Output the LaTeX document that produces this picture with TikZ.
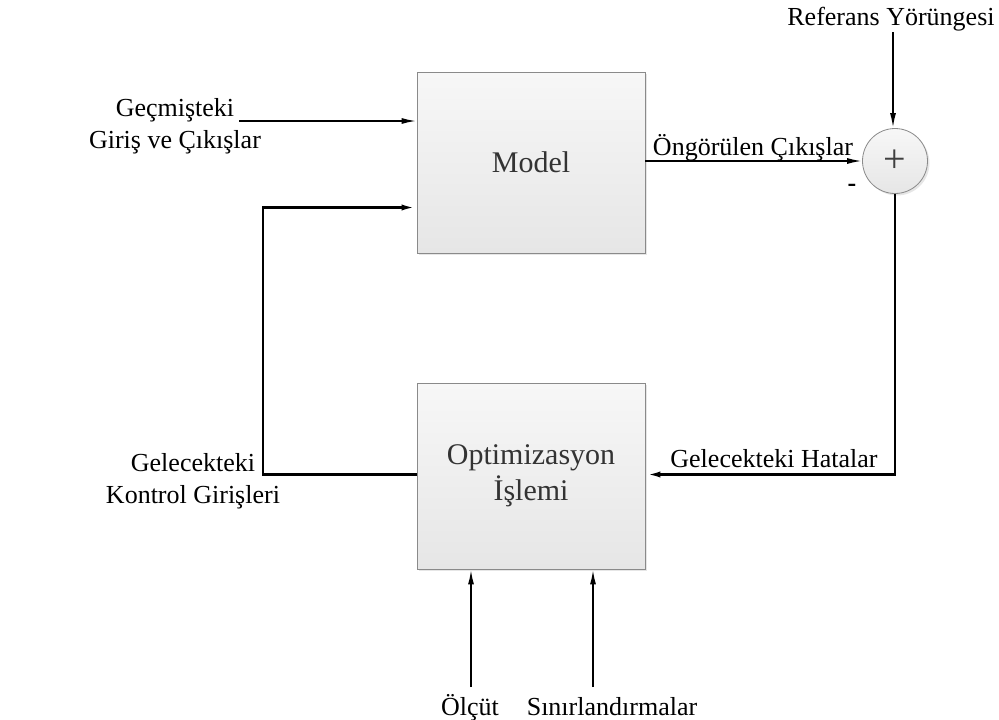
\documentclass[tikz,border=0pt]{standalone}
\usepackage{fontspec}
\setmainfont{Liberation Serif}
\usetikzlibrary{arrows.meta,shadows,calc}
\definecolor{boxtop}{HTML}{F7F7F7}
\definecolor{boxbot}{HTML}{E6E6E6}
\definecolor{boxline}{HTML}{8A8A8A}
\begin{document}
\begin{tikzpicture}[x=1pt,y=-1pt,
  block/.style={draw=boxline, line width=0.8pt, top color=boxtop, bottom color=boxbot,
    minimum width=228pt, align=center, font=\fontsize{30}{36}\selectfont, text=black!80,
    drop shadow={shadow xshift=2pt,shadow yshift=-2pt,opacity=0.2}},
  sumnode/.style={circle, draw=boxline, line width=0.8pt, top color=boxtop, bottom color=boxbot,
    minimum size=65pt, inner sep=0pt,
    drop shadow={shadow xshift=2pt,shadow yshift=-2pt,opacity=0.2}},
  lbl/.style={font=\fontsize{26}{32}\selectfont, align=center, inner sep=0pt},
  tip/.style={-{Latex[length=15pt,width=6pt]}},
  flow/.style={line width=1.8pt, tip},
  fb/.style={line width=2.6pt, tip},
]
\useasboundingbox (0,0) rectangle (999,720);

\node[block, minimum height=181pt] (model) at (531,162.5) {Model};
\node[block, minimum height=186pt] (opt) at (531,476) {Optimizasyon\\İşlemi};
\node[sumnode] (sum) at (895,161) {};
\node[font=\fontsize{40}{40}\selectfont, text=black!75, inner sep=0pt] (plus) at (sum.center) {+};

% labels
\node[lbl, anchor=base] (ref) at (891,25) {Referans Yörüngesi};
\node[lbl, anchor=base] (past) at (175,148) {Geçmişteki\\Giriş ve Çıkışlar};
\node[lbl, anchor=base] (pred) at (753,155) {Öngörülen Çıkışlar};
\node[lbl, anchor=base, font=\fontsize{26}{32}\selectfont\bfseries] (minus) at (852,191) {-};
\node[lbl, anchor=base] (err) at (774,467) {Gelecekteki Hatalar};
\node[lbl, anchor=base] (ctrl) at (193,503) {Gelecekteki\\Kontrol Girişleri};
\node[lbl, anchor=base] (olcut) at (470,715) {Ölçüt};
\node[lbl, anchor=base] (sinir) at (612,715) {Sınırlandırmalar};

% helper coordinates
\coordinate (pastend) at (239,121);
\coordinate (fbl) at (263,474.5);
\coordinate (reftop) at (893,32);
\coordinate (oltop) at (471,687);
\coordinate (sitop) at (593,687);

% connectors
\draw[flow] (pastend) -- (pastend -| model.west);
\draw[flow] (model.east |- sum.west) -- (sum.west);
\draw[flow] (reftop) -- (reftop |- sum.north);
\draw[fb] (sum.south) |- ([yshift=1.5pt]opt.east);
\draw[fb] ([yshift=1.5pt]opt.west) -- (fbl) |- ([yshift=-45pt]model.west);
\draw[flow] (oltop) -- (oltop |- opt.south);
\draw[flow] (sitop) -- (sitop |- opt.south);
\end{tikzpicture}
\end{document}
